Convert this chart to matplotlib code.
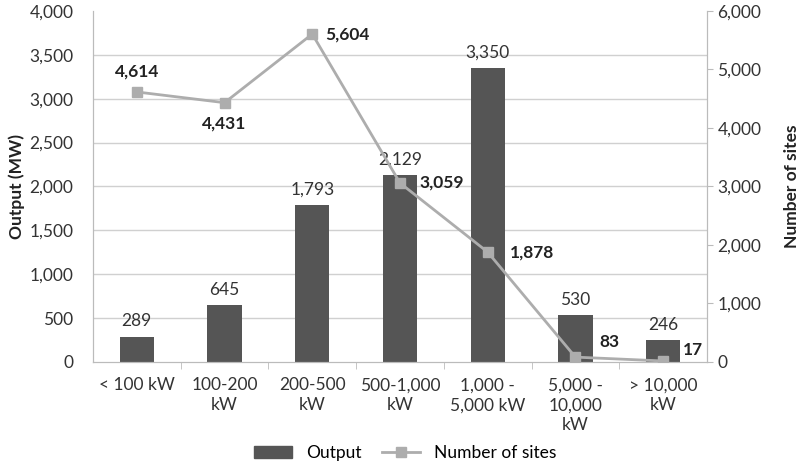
import matplotlib.pyplot as plt
from matplotlib.ticker import FuncFormatter, MultipleLocator
from matplotlib.lines import Line2D
from matplotlib.patches import Patch

plt.rcParams['font.family'] = ['Lato', 'DejaVu Sans']

categories = ['< 100 kW', '100-200\nkW', '200-500\nkW', '500-1,000\nkW',
              '1,000 -\n5,000 kW', '5,000 -\n10,000\nkW', '> 10,000\nkW']
output_mw = [289, 645, 1793, 2129, 3350, 530, 246]
num_sites = [4614, 4431, 5604, 3059, 1878, 83, 17]

bar_color = '#555555'
line_color = '#adadad'
text_color = '#333333'
fs = 12.5

fig = plt.figure(figsize=(8.1, 4.62), dpi=100)
ax = fig.add_axes([0.1148, 0.2165, 0.758, 0.76])
ax2 = ax.twinx()

x = list(range(len(categories)))
ax.bar(x, output_mw, width=0.39, color=bar_color, zorder=2)
for xi, v in zip(x, output_mw):
    ax.annotate(f'{v:,}', (xi, v), xytext=(0, 11), textcoords='offset points',
                ha='center', va='center', fontsize=fs, color=text_color)

ax2.plot(x, num_sites, color=line_color, lw=2, marker='s', ms=7, zorder=3)

# label offsets in points for each line label
offsets = [(0, 15, 'center'), (0, -15, 'center'), (9, 0, 'left'),
           (14, 0, 'left'), (16, 0, 'left'), (17, 11, 'left'), (14, 8, 'left')]
for xi, v, (dx, dy, ha) in zip(x, num_sites, offsets):
    ax2.annotate(f'{v:,}', (xi, v), xytext=(dx, dy), textcoords='offset points',
                 ha=ha, va='center', fontsize=fs, fontweight='bold', color='#222222')

ax.set_xlim(-0.5, len(categories) - 0.5)
ax.set_ylim(0, 4000)
ax2.set_ylim(0, 6000)
ax.yaxis.set_major_locator(MultipleLocator(500))
ax2.yaxis.set_major_locator(MultipleLocator(1000))
fmt = FuncFormatter(lambda v, p: f'{int(v):,}')
ax.yaxis.set_major_formatter(fmt)
ax2.yaxis.set_major_formatter(fmt)

for t in [500, 1000, 1500, 2000, 2500, 3000, 3500]:
    ax.axhline(t, color='#d0d0d0', lw=1, zorder=0)

ax.set_xticks(x)
ax.set_xticklabels(categories, fontsize=fs, color=text_color, va='top', linespacing=1.3)
ax.set_xticks([i + 0.5 for i in x[:-1]], minor=True)
ax.tick_params(axis='x', which='major', length=0, pad=11)
ax.tick_params(axis='x', which='minor', length=5, color='#bbbbbb', direction='out')
ax.tick_params(axis='y', length=0, labelsize=fs, labelcolor=text_color, pad=14)
ax2.tick_params(axis='y', length=4.5, color='#bbbbbb', labelsize=fs, labelcolor=text_color, pad=3)

for a in (ax, ax2):
    a.spines['top'].set_visible(False)
    a.spines['left'].set_color('#bbbbbb')
    a.spines['right'].set_color('#bbbbbb')
    a.spines['bottom'].set_color('#bbbbbb')

ax.set_ylabel('Output (MW)', fontsize=fs, fontweight='bold', color='#222222', labelpad=3)
ax2.set_ylabel('Number of sites', fontsize=fs, fontweight='bold', color='#222222', labelpad=16)

handles = [Patch(color=bar_color, label='Output'),
           Line2D([], [], color=line_color, lw=2, marker='s', ms=7, label='Number of sites')]
fig.legend(handles=handles, loc='lower center', bbox_to_anchor=(0.5, -0.032), ncol=2,
           frameon=False, fontsize=fs, handlelength=2.2, columnspacing=1.2)

fig.savefig('out.png', dpi=100)
